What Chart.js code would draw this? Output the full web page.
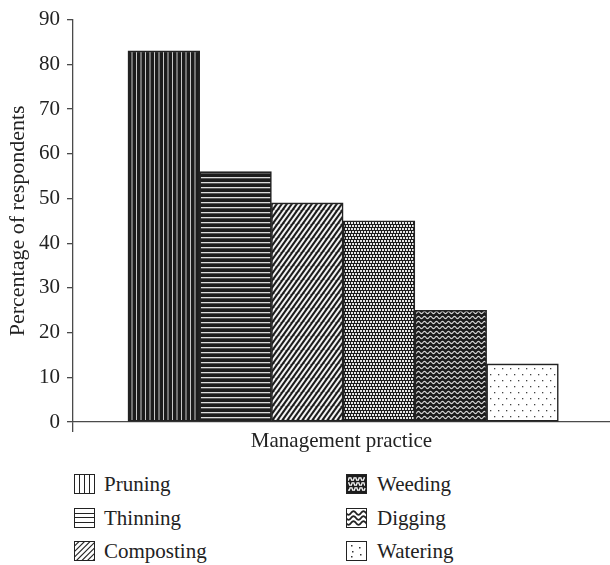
<!DOCTYPE html>
<html><head><meta charset="utf-8">
<script src="https://cdn.jsdelivr.net/npm/chart.js@4"></script>
<style>
body{margin:0;background:#fff;}
#wrap{position:relative;width:610px;height:565px;overflow:hidden;}
#c{position:absolute;left:0;top:0;}
.ic{position:absolute;}
.lt{position:absolute;font-family:"Liberation Serif",serif;font-size:21px;color:#222;line-height:24px;white-space:nowrap;}
</style></head><body>
<div id="wrap"><canvas id="c" width="610" height="455"></canvas></div>
<script>
// ---- data ----
const categories = ['Pruning', 'Thinning', 'Composting', 'Weeding', 'Digging', 'Watering'];
const values = [83, 56, 49, 45, 25, 13];
const yTickValues = [0, 10, 20, 30, 40, 50, 60, 70, 80, 90];
const xTitle = 'Management practice';
const yTitle = 'Percentage of respondents';
const patternKinds = ['vstripe', 'hstripe', 'diag', 'checker', 'wave', 'dots'];

// ---- layout constants (x range of the index axis, in bar units) ----
const X_MIN = -1.266, X_MAX = 6.22;

// ---- patterns ----
function makeTile(w, h, draw) {
  const t = document.createElement('canvas');
  t.width = w; t.height = h;
  draw(t.getContext('2d'), w, h);
  return t;
}
const DARK = '#1c1c1c';
const tiles = {
  vstripe: makeTile(9, 4, (g, w, h) => {
    g.fillStyle = DARK; g.fillRect(0, 0, w, h);
    g.fillStyle = '#c8c8c8'; g.fillRect(1, 0, 1, h); g.fillRect(5.5, 0, 1, h);
  }),
  hstripe: makeTile(4, 5, (g, w, h) => {
    g.fillStyle = DARK; g.fillRect(0, 0, w, h);
    g.fillStyle = '#dcdcdc'; g.fillRect(0, 2, w, 1.3);
  }),
  diag: makeTile(10, 14, (g, w, h) => {
    g.fillStyle = DARK; g.fillRect(0, 0, w, h);
    g.strokeStyle = '#f4f4f4'; g.lineWidth = 2;
    for (let x = -10; x <= 10; x += 5) { g.beginPath(); g.moveTo(x, h); g.lineTo(x + w, 0); g.stroke(); }
  }),
  checker: makeTile(6, 6, (g, w, h) => {
    g.fillStyle = DARK; g.fillRect(0, 0, w, h);
    g.fillStyle = '#e6e6e6';
    g.fillRect(0, 0, 2, 2); g.fillRect(3, 0, 2, 2); g.fillRect(1, 3, 2, 2); g.fillRect(4, 3, 2, 2);
  }),
  wave: makeTile(6, 5, (g, w, h) => {
    g.fillStyle = DARK; g.fillRect(0, 0, w, h);
    g.strokeStyle = '#d8d8d8'; g.lineWidth = 1.1;
    g.beginPath();
    for (let x = -1; x <= w + 1; x += 0.5) {
      const y = 2.5 + 1.1 * Math.sin(2 * Math.PI * x / w);
      if (x === -1) g.moveTo(x, y); else g.lineTo(x, y);
    }
    g.stroke();
  }),
  dots: makeTile(8, 12, (g, w, h) => {
    g.fillStyle = '#fff'; g.fillRect(0, 0, w, h);
    g.fillStyle = '#444'; g.fillRect(2, 2, 1.3, 1.3); g.fillRect(6, 8, 1.3, 1.3);
  })
};
const ctx = document.getElementById('c').getContext('2d');
const patterns = patternKinds.map(k => ctx.createPattern(tiles[k], 'repeat'));

const FONT = {family: 'Liberation Serif', size: 21};
const AX = '#4a4a4a';

new Chart(ctx, {
  type: 'bar',
  data: {
    datasets: [{
      data: categories.map((c, i) => ({x: i, y: values[i]})),
      backgroundColor: patterns,
      borderColor: '#222',
      borderWidth: 1.6,
      borderSkipped: false,
      barPercentage: 1,
      categoryPercentage: 1
    }]
  },
  options: {
    responsive: false,
    animation: false,
    layout: {padding: {top: 17, right: 0, left: 0, bottom: 0}},
    plugins: {legend: {display: false}, tooltip: {enabled: false}},
    scales: {
      x: {
        type: 'linear', min: X_MIN, max: X_MAX, bounds: 'data', offset: false,
        grid: {drawOnChartArea: false, tickLength: 10, color: AX, lineWidth: 1.3, offset: false},
        border: {color: AX, width: 1.3},
        ticks: {display: false},
        afterDataLimits: s => { s.min = X_MIN; s.max = X_MAX; },
        afterBuildTicks: s => { s.min = X_MIN; s.max = X_MAX; s.ticks = [{value: X_MIN}]; },
        afterFit: s => { s.height = 33; },
        title: {display: true, text: xTitle, font: FONT, color: '#222', padding: {top: 0, bottom: 1}}
      },
      y: {
        min: 0, max: 90,
        afterBuildTicks: s => { s.ticks = yTickValues.map(v => ({value: v})); },
        ticks: {padding: 7, font: FONT, color: '#222'},
        grid: {drawOnChartArea: false, tickLength: 6, color: AX, lineWidth: 1.3},
        border: {color: AX, width: 1.3},
        afterFit: s => { s.width = 73; },
        title: {display: true, text: yTitle, font: {family: 'Liberation Serif', size: 22}, color: '#222', padding: {top: 5, bottom: 0}}
      }
    }
  }
});

// ---- legend ----
const wrap = document.getElementById('wrap');
const legendPos = [
  {ix: 74, tx: 104, cy: 484}, {ix: 74, tx: 104, cy: 518}, {ix: 74, tx: 104, cy: 551},
  {ix: 346, tx: 377, cy: 484}, {ix: 346, tx: 377, cy: 518}, {ix: 346, tx: 377, cy: 551}
];
function drawIcon(g, kind, w, h) {
  g.fillStyle = '#fff'; g.fillRect(0, 0, w, h);
  g.strokeStyle = '#222'; g.lineWidth = 1;
  const L = 0.5, T = 0.5, R = w - 0.5, B = h - 0.5;
  g.save(); g.beginPath(); g.rect(L, T, R - L, B - T); g.clip();
  if (kind === 'vstripe') {
    [5.5, 10.5, 15.5].forEach(x => { g.beginPath(); g.moveTo(x, 0); g.lineTo(x, h); g.stroke(); });
  } else if (kind === 'hstripe') {
    [5.5, 9.5, 14.5].forEach(y => { g.beginPath(); g.moveTo(0, y); g.lineTo(w, y); g.stroke(); });
  } else if (kind === 'diag') {
    g.lineWidth = 1.1;
    for (let x = -20; x < w + 5; x += 5.5) { g.beginPath(); g.moveTo(x, h); g.lineTo(x + h, 0); g.stroke(); }
  } else if (kind === 'checker') {
    g.fillStyle = '#1c1c1c'; g.fillRect(0, 0, w, h);
    g.strokeStyle = '#fff'; g.lineWidth = 1.2;
    [5, 10, 15].forEach((y, r) => {
      g.beginPath();
      for (let x = 2; x <= w - 2; x += 0.5) {
        const yy = y + 1.2 * Math.sign(Math.sin((x + r * 2) * Math.PI / 2.5));
        if (x === 2) g.moveTo(x, yy); else g.lineTo(x, yy);
      }
      g.stroke();
    });
  } else if (kind === 'wave') {
    g.lineWidth = 1.8;
    [5, 10, 15].forEach(y => {
      g.beginPath();
      for (let x = 0; x <= w; x += 0.5) {
        const yy = y + 1.8 * Math.sin(2 * Math.PI * x / 10);
        if (x === 0) g.moveTo(x, yy); else g.lineTo(x, yy);
      }
      g.stroke();
    });
  } else if (kind === 'dots') {
    g.fillStyle = '#333';
    [[5, 4], [13, 6], [6, 10], [14, 13], [5, 15]].forEach(([x, y]) => g.fillRect(x, y, 1.5, 1.5));
  }
  g.restore();
  g.strokeStyle = '#222'; g.lineWidth = 1;
  g.strokeRect(L, T, R - L, B - T);
}
categories.forEach((name, i) => {
  const p = legendPos[i];
  const c = document.createElement('canvas');
  c.width = 21; c.height = 20; c.className = 'ic';
  c.style.left = p.ix + 'px'; c.style.top = (p.cy - 10) + 'px';
  drawIcon(c.getContext('2d'), patternKinds[i], 21, 20);
  wrap.appendChild(c);
  const t = document.createElement('div');
  t.className = 'lt'; t.textContent = name;
  t.style.left = p.tx + 'px'; t.style.top = (p.cy - 12) + 'px';
  wrap.appendChild(t);
});
</script>
</body></html>
